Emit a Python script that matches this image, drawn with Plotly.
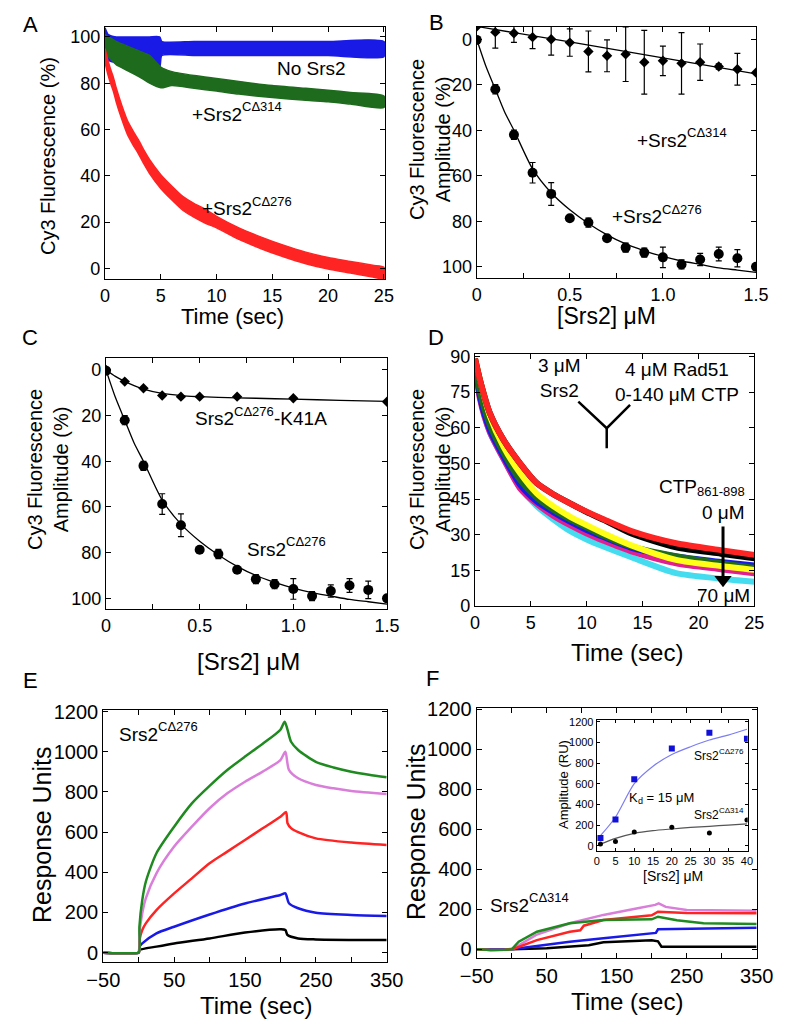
import plotly.graph_objects as go

# target picture is 800x1024; the page body adds an 8px margin, so the figure is
# drawn 8px smaller and every pixel position is shifted by that margin.
PAGE_W, PAGE_H = 800, 1024
OFF = 8
W, H = PAGE_W - OFF, PAGE_H - OFF
FONT = "Arial, 'Liberation Sans', Helvetica, sans-serif"

# ---------------- Panel A data ----------------
a_blue_t = [0, 0.3, 1, 2, 3, 4, 4.9, 5.1, 8, 12, 16, 20, 25]
a_blue_hi = [104, 101, 100, 100, 100, 100, 100, 98, 98, 98, 98, 98, 98]
a_blue_lo = [93, 90, 89, 89, 89, 89, 87, 92, 92, 92, 92, 92, 91.5]

a_green_t = [0, 0.5, 1, 2, 3, 4, 5, 6, 8, 10, 12, 15, 18, 20, 22, 25]
a_green_hi = [101, 99.5, 98, 96, 94, 92, 87, 85, 83.3, 82, 80.7, 79, 77.8, 77, 76, 74.5]
a_green_lo = [93, 90.5, 88, 85.5, 83, 80, 78, 79, 77.8, 76.6, 75.3, 73.8, 72.6, 72, 71, 69.5]

a_red_t = [0, 0.25, 0.5, 0.75, 1, 1.5, 2, 2.5, 3, 3.5, 4, 5, 6, 7, 8, 9, 10, 12, 14, 16, 18, 20, 22, 24, 25]
a_red_hi = [95, 90, 86, 82.5, 78, 70.5, 64, 59.5, 55.5, 51, 47, 40.5, 35.5, 31, 28, 25.5, 22.5, 17.5, 13.5, 10, 7, 4.7, 3, 1.3, 0.5]
a_red_lo = [89, 84, 80, 76.5, 72, 64.5, 58, 53.5, 49.5, 45, 41, 34.5, 29.5, 25, 22, 19.5, 17.5, 12.5, 8.5, 5, 2, -0.3, -2, -3.7, -4.5]

# ---------------- Panel B / C data ----------------
srs2_conc = [0, 0.1, 0.2, 0.3, 0.4, 0.5, 0.6, 0.7, 0.8, 0.9, 1.0, 1.1, 1.2, 1.3, 1.4, 1.5]
c276_amp = [0.3, 22, 42, 58.7, 68, 78.7, 80.6, 87.5, 91.6, 93.8, 95.9, 99, 96.8, 94.4, 96.3, 100]
c276_err = [0, 2, 2, 4.5, 5, 0, 2, 0, 2, 2, 4.5, 2, 2.7, 3, 3.8, 0]
c276_fit_x = [0, 0.05, 0.1, 0.15, 0.2, 0.3, 0.4, 0.5, 0.6, 0.7, 0.8, 0.9, 1.0, 1.1, 1.2, 1.3, 1.4, 1.5]
c276_fit_y = [0, 12, 22, 32, 40, 57, 67.5, 75, 81, 86, 90, 93, 95.5, 97.5, 99, 100.5, 101.5, 102.5]

c314_amp = [-5.6, -3.1, -2.6, -0.9, 0, 1.5, 5.4, 7.3, 6.6, 10.1, 9.5, 10.6, 10.1, 12, 13.2, 14.7]
c314_err = [0, 7, 4, 5, 7, 6, 9, 7, 12, 14, 6.5, 13.5, 8, 1.2, 7, 0]
c314_fit_x = [0, 0.5, 1.0, 1.5]
c314_fit_y = [-5.6, 1.2, 8.2, 15.2]

k41a_x = [0, 0.1, 0.2, 0.3, 0.4, 0.5, 0.7, 1.0, 1.5]
k41a_amp = [0, 5.1, 8, 11.2, 11.7, 11.7, 11.7, 12.4, 13.9]
k41a_fit_x = [0, 0.05, 0.1, 0.15, 0.2, 0.3, 0.4, 0.6, 0.8, 1.0, 1.25, 1.5]
k41a_fit_y = [0, 2.8, 5, 6.9, 8.4, 10.3, 11.2, 12, 12.4, 12.8, 13.3, 13.8]

# ---------------- Panel D data ----------------
d_t = [0, 0.45, 1.34, 2.54, 4.03, 5.52, 7, 8.5, 10, 11.5, 14, 18, 22, 25]
d_red = [104, 95, 81, 70, 60, 51.7, 47, 43.2, 39.7, 36.5, 31.5, 26.4, 23.5, 21.5]
d_black = [104, 95, 81, 70, 60, 51.7, 47, 43.2, 39.5, 36.3, 30.5, 24.7, 22, 20.1]
d_yellow = [104, 95, 79.7, 67.1, 55.9, 47.4, 42, 37.6, 34, 30.6, 25.5, 19.4, 16.8, 15.2]
d_green = [103, 90, 76, 64.5, 53, 45.5, 40.5, 36.5, 33, 29.5, 25, 21, 18, 16]
d_blue = [103, 88, 74, 63, 51, 44, 39.5, 35.5, 32, 29, 24.5, 20.8, 18.5, 17]
d_magenta = [103, 87, 73, 62, 49.5, 43, 38, 34, 30.5, 27.5, 23, 18, 15.5, 13.8]
d_cyan = [103, 88, 73, 62, 50, 42, 36.5, 31.6, 28, 25, 20.5, 13.8, 11.5, 10.2]
d_ytick_vals = [0, 15, 30, 45, 60, 75, 90, 105]
d_ytick_text = ["0", "15", "30", "45", "50", "60", "75", "90"]
d_ymark_x = [9.25, 11.79, 13.88]
d_ymark_y = [86, 74.8, 84.6]
d_ystem_y = [74.8, 66.4]
d_arrow_x = 22.2
d_arrow_y = [33.4, 12.5]
d_arrow_head_y = 11.0

# ---------------- Panel E data ----------------
e_green_t = [-50, -30, -10, 0, 1, 5, 10, 25, 50, 75, 100, 125, 150, 175, 200, 206, 210, 215, 225, 250, 275, 300, 325, 350]
e_green = [0, -3, -3, 0, 130, 262, 353, 495, 627, 743, 830, 909, 976, 1040, 1110, 1150, 1110, 1050, 1009, 950, 922, 901, 886, 873]
e_violet_t = [-50, -30, -10, 0, 1, 5, 10, 25, 50, 75, 100, 125, 150, 175, 200, 207, 212, 225, 250, 275, 300, 350]
e_violet = [0, -3, -3, 0, 96, 196, 270, 395, 528, 627, 719, 793, 851, 901, 959, 1000, 910, 868, 835, 818, 805, 790]
e_red_t = [-50, -30, -10, 0, 1, 5, 10, 25, 50, 75, 100, 125, 150, 175, 200, 208, 210, 215, 225, 250, 300, 350]
e_red = [0, -3, -3, 0, 63, 113, 146, 212, 295, 370, 445, 503, 561, 619, 677, 700, 644, 620, 600, 569, 548, 536]
e_blue_t = [-50, -30, -10, 0, 1, 5, 25, 50, 100, 150, 200, 207, 212, 225, 250, 300, 350]
e_blue = [0, -3, -3, 0, 30, 46, 96, 129, 190, 245, 287, 295, 246, 221, 199, 188, 183]
e_black_t = [-50, -30, -10, 0, 1, 25, 50, 100, 150, 200, 207, 210, 225, 250, 350]
e_black = [0, -3, -3, 0, 13, 30, 46, 71, 100, 116, 113, 88, 71, 66, 63]

# ---------------- Panel F data ----------------
f_violet_t = [-50, -30, -10, 0, 3, 35, 83, 131, 180, 205, 210, 220, 250, 350]
f_violet = [0, -3, -2, 0, 5, 72, 130, 172, 205, 222, 230, 212, 197, 193]
f_red_t = [-50, -30, -10, 0, 3, 36, 83, 98, 103, 131, 200, 209, 250, 350]
f_red = [0, -3, -2, 0, 3, 46, 88, 95, 118, 146, 170, 188, 182, 180]
f_green_t = [-50, -30, -10, 0, 10, 36, 83, 131, 200, 209, 236, 274, 350]
f_green = [0, -3, -2, 0, 38, 88, 130, 146, 150, 163, 145, 130, 126]
f_blue_t = [-50, -30, 0, 36, 83, 131, 200, 206, 209, 350]
f_blue = [0, 0, 0, 16, 38, 55, 78, 82, 100, 108]
f_black_t = [-50, 0, 50, 83, 110, 131, 200, 209, 214, 350]
f_black = [0, 0, 5, 15, 20, 35, 45, 40, 13, 13]

# ---------------- Inset data ----------------
ins_conc = [1, 5, 10, 20, 30, 40]
ins_276 = [75, 253, 643, 942, 1094, 1036]
ins_314 = [16, 42, 133, 179, 123, 250]
ins_fit_x = [1, 5, 10, 15, 20, 25, 30, 35, 40]
ins_276_fit = [97, 276, 600, 770, 883, 958, 1023, 1071, 1127]
ins_314_fit = [16, 71, 120, 146, 162, 177, 188, 200, 211]

# colours
BLUE = "#1a1ae6"
DGREEN = "#1e6b1e"
RED = "#ff2424"
GREEN = "#1f8a1f"
VIOLET = "#d97fd9"
MAGENTA = "#e0208f"
YELLOW = "#ffff1a"
CYAN = "#45dcf0"

fig = go.Figure()


def px_x(x):
    return (x - OFF) / W


def px_y(y):
    return 1 - (y - OFF) / H


def dom(l, r, t, b):
    return [px_x(l), px_x(r)], [px_y(b), px_y(t)]


def axis(dm, rng, size=18, minor_vals=None, tl=5, lw=1.3, **kw):
    d = dict(domain=dm, range=rng, showline=True, linecolor="black", linewidth=lw,
             mirror="ticks", ticks="inside", ticklen=tl, tickwidth=1.2, tickcolor="black",
             showgrid=False, zeroline=False, automargin=False,
             tickfont=dict(family=FONT, size=size, color="black"))
    if minor_vals is not None:
        d["minor"] = dict(tickvals=minor_vals, ticks="inside", ticklen=tl, tickwidth=1.2,
                          tickcolor="black", showgrid=False)
    d.update(kw)
    return d


def band(t, hi, lo, color, ax):
    fig.add_trace(go.Scatter(x=list(t) + list(t)[::-1], y=list(hi) + list(lo)[::-1],
                             fill="toself", fillcolor=color, mode="lines",
                             line=dict(color=color, width=1.5, shape="spline", smoothing=0.6),
                             hoverinfo="skip",
                             xaxis="x" + ax, yaxis="y" + ax, showlegend=False))


def line(t, v, color, ax, width=2.5, shape="linear"):
    fig.add_trace(go.Scatter(x=t, y=v, mode="lines",
                             line=dict(color=color, width=width, shape=shape, smoothing=0.7),
                             xaxis="x" + ax, yaxis="y" + ax, showlegend=False))


# ---- A (axis 1) ----
band(a_blue_t, a_blue_hi, a_blue_lo, BLUE, "")
band(a_green_t, a_green_hi, a_green_lo, DGREEN, "")
band(a_red_t, a_red_hi, a_red_lo, RED, "")

# ---- B (axis 2) ----
line(c314_fit_x, c314_fit_y, "black", "2", 1.3, "spline")
line(c276_fit_x, c276_fit_y, "black", "2", 1.3, "spline")
fig.add_trace(go.Scatter(x=srs2_conc, y=c314_amp, mode="markers",
                         marker=dict(symbol="diamond", size=8, color="black"),
                         error_y=dict(type="data", array=c314_err, color="black", thickness=1.2, width=3),
                         xaxis="x2", yaxis="y2", showlegend=False))
fig.add_trace(go.Scatter(x=srs2_conc, y=c276_amp, mode="markers",
                         marker=dict(symbol="circle", size=10, color="black"),
                         error_y=dict(type="data", array=c276_err, color="black", thickness=1.2, width=3),
                         xaxis="x2", yaxis="y2", showlegend=False))

# ---- C (axis 3) ----
line(k41a_fit_x, k41a_fit_y, "black", "3", 1.3, "spline")
line(c276_fit_x, c276_fit_y, "black", "3", 1.3, "spline")
fig.add_trace(go.Scatter(x=k41a_x, y=k41a_amp, mode="markers",
                         marker=dict(symbol="diamond", size=8, color="black"),
                         xaxis="x3", yaxis="y3", showlegend=False))
fig.add_trace(go.Scatter(x=srs2_conc, y=c276_amp, mode="markers",
                         marker=dict(symbol="circle", size=10, color="black"),
                         error_y=dict(type="data", array=c276_err, color="black", thickness=1.2, width=3),
                         xaxis="x3", yaxis="y3", showlegend=False))

# ---- D (axis 4) ----
for vals, col in [(d_cyan, CYAN), (d_magenta, MAGENTA), (d_blue, BLUE), (d_green, DGREEN),
                  (d_yellow, YELLOW), (d_black, "black"), (d_red, RED)]:
    line(d_t, vals, col, "4", 6, "spline")
# Y-shaped mark
line(d_ymark_x, d_ymark_y, "black", "4", 2.5)
line([d_ymark_x[1], d_ymark_x[1]], d_ystem_y, "black", "4", 2.5)
# arrow (shaft + head)
line([d_arrow_x, d_arrow_x], d_arrow_y, "black", "4", 3)
fig.add_trace(go.Scatter(x=[d_arrow_x], y=[d_arrow_head_y], mode="markers",
                         marker=dict(symbol="triangle-down", size=15, color="black"),
                         xaxis="x4", yaxis="y4", showlegend=False))

# ---- E (axis 5) ----
for t, v, col in [(e_black_t, e_black, "black"), (e_blue_t, e_blue, BLUE), (e_red_t, e_red, RED),
                  (e_violet_t, e_violet, VIOLET), (e_green_t, e_green, GREEN)]:
    line(t, v, col, "5", 2.5, "spline")

# ---- F (axis 6) ----
for t, v, col in [(f_black_t, f_black, "black"), (f_blue_t, f_blue, BLUE), (f_violet_t, f_violet, VIOLET),
                  (f_red_t, f_red, RED), (f_green_t, f_green, GREEN)]:
    line(t, v, col, "6", 2.5)

# ---- Inset (axis 7) ----
line(ins_fit_x, ins_276_fit, "#7d7df2", "7", 1.2, "spline")
line(ins_fit_x, ins_314_fit, "#555555", "7", 1.2, "spline")
fig.add_trace(go.Scatter(x=ins_conc, y=ins_276, mode="markers",
                         marker=dict(symbol="square", size=6, color="#1010d8"),
                         xaxis="x7", yaxis="y7", showlegend=False))
fig.add_trace(go.Scatter(x=ins_conc, y=ins_314, mode="markers",
                         marker=dict(symbol="circle", size=5, color="black"),
                         xaxis="x7", yaxis="y7", showlegend=False))

# ---- axes ----
xA, yA = dom(105, 385, 26.5, 279)
xB, yB = dom(476.7, 756, 26.7, 278.3)
xC, yC = dom(106, 387, 358.3, 609.3)
xD, yD = dom(475, 754.3, 354, 606)
xE, yE = dom(103.3, 386.7, 710, 962.3)
xF, yF = dom(476.7, 756.7, 707.7, 957.7)
xI, yI = dom(596.7, 747.7, 720, 851)

sec_vals = [-50, 50, 150, 250, 350]
sec_minor = [0, 100, 200, 300]
conc_vals = [0, 0.5, 1.0, 1.5]
conc_text = ["0", "0.5", "1.0", "1.5"]
conc_minor = [0.25, 0.75, 1.25]
ru_vals = [0, 200, 400, 600, 800, 1000, 1200]

fig.update_layout(
    template="none",
    width=W, height=H, margin=dict(l=0, r=0, t=0, b=0, autoexpand=False),
    paper_bgcolor="white", plot_bgcolor="white", showlegend=False,
    font=dict(family=FONT, color="black", size=18),
    xaxis=axis(xA, [0, 25.1], anchor="y", tickvals=[0, 5, 10, 15, 20, 25]),
    yaxis=axis(yA, [-4.6, 104.5], anchor="x", tickvals=[0, 20, 40, 60, 80, 100]),
    xaxis2=axis(xB, [0, 1.5], anchor="y2", tickvals=conc_vals, ticktext=conc_text, minor_vals=conc_minor),
    yaxis2=axis(yB, [105.1, -5.5], anchor="x2", tickvals=[0, 20, 40, 60, 80, 100]),
    xaxis3=axis(xC, [0, 1.5], anchor="y3", tickvals=conc_vals, ticktext=conc_text, minor_vals=conc_minor),
    yaxis3=axis(yC, [104.8, -5.1], anchor="x3", tickvals=[0, 20, 40, 60, 80, 100]),
    xaxis4=axis(xD, [0, 25], anchor="y4", tickvals=[0, 5, 10, 15, 20, 25]),
    yaxis4=axis(yD, [0, 106], anchor="x4", tickvals=d_ytick_vals, ticktext=d_ytick_text),
    xaxis5=axis(xE, [-50, 350], size=20, anchor="y5", tickvals=sec_vals, minor_vals=sec_minor),
    yaxis5=axis(yE, [-48, 1208], size=20, anchor="x5", tickvals=ru_vals),
    xaxis6=axis(xF, [-50, 350], size=20, anchor="y6", tickvals=sec_vals, minor_vals=sec_minor),
    yaxis6=axis(yF, [-42, 1208], size=20, anchor="x6", tickvals=ru_vals),
    xaxis7=axis(xI, [0, 40.2], size=11, anchor="y7", tickvals=list(range(0, 41, 5)), tl=3, lw=1),
    yaxis7=axis(yI, [-51, 1217], size=11, anchor="x7", tickvals=ru_vals, tl=3, lw=1),
)

ann = []


def txt(text, x, y, size=19, xanchor="center", yanchor="middle", angle=0):
    ann.append(dict(text=text, x=px_x(x), y=px_y(y), xref="paper", yref="paper",
                    xanchor=xanchor, yanchor=yanchor, showarrow=False, textangle=angle,
                    font=dict(family=FONT, size=size, color="black")))


# Arial advance widths (per em) for composing super/subscript labels
CW = {"+": .584, "S": .667, "r": .333, "s": .5, "C": .722, "Δ": .668, "-": .333,
      "K": .667, "A": .667, "T": .611, "P": .667, " ": .278, "μ": .576, "M": .833,
      "d": .556, "=": .584}


def tw(s, size):
    return sum(CW.get(c, .556) for c in s) * size


def rich(parts, x, y, size):
    """parts: list of (text, kind) where kind is '', 'sup' or 'sub'."""
    cx = x
    for s, kind in parts:
        if kind == "":
            fs, dy = size, 0
        elif kind == "sup":
            fs, dy = round(size * 0.7), -0.38 * size
        else:
            fs, dy = round(size * 0.7), 0.3 * size
        txt(s, cx, y + dy, size=fs, xanchor="left")
        cx += tw(s, fs)


# panel letters
for L, x, y in [("A", 30, 25), ("B", 436, 23), ("C", 30, 337), ("D", 436, 337), ("E", 30, 680), ("F", 432, 678)]:
    txt(L, x, y, size=22)

# axis titles
txt("Time (sec)", 232, 316, size=22)
txt("Cy3 Fluorescence (%)", 48, 156, size=20, angle=-90)
txt("[Srs2] μM", 606, 316, size=23)
txt("Cy3 Fluorescence<br>Amplitude (%)", 430, 140, size=20, angle=-90)
txt("[Srs2] μM", 248, 661, size=24)
txt("Cy3 Fluorescence<br>Amplitude (%)", 48, 470, size=20, angle=-90)
txt("Time (sec)", 627, 652, size=24)
txt("Cy3 Fluorescence<br>Amplitude (%)", 430, 470, size=20, angle=-90)
txt("Time (sec)", 256, 1005, size=24)
txt("Response Units", 42, 835, size=25, angle=-90)
txt("Time (sec)", 627, 1001, size=24)
txt("Response Units", 416, 832, size=25, angle=-90)
txt("[Srs2] μM", 673, 876, size=14)
txt("Amplitude (RU)", 563, 785, size=13, angle=-90)

# panel annotations
txt("No Srs2", 275, 68, xanchor="left")
rich([("+Srs2", ""), ("CΔ314", "sup")], 190, 114, 19)
rich([("+Srs2", ""), ("CΔ276", "sup")], 200, 209, 19)
rich([("+Srs2", ""), ("CΔ314", "sup")], 635, 140, 19)
rich([("+Srs2", ""), ("CΔ276", "sup")], 610, 217, 19)
rich([("Srs2", ""), ("CΔ276", "sup"), ("-K41A", "")], 193, 419, 19)
rich([("Srs2", ""), ("CΔ276", "sup")], 245, 549, 19)
txt("3 μM<br>Srs2", 559, 378, size=19)
txt("4 μM Rad51<br>0-140 μM CTP", 677, 382, size=19)
rich([("CTP", ""), ("861-898", "sub")], 657, 486, 19)
txt("0 μM", 723, 512, size=19)
txt("70 μM", 752, 595, size=19, xanchor="right")
rich([("Srs2", ""), ("CΔ276", "sup")], 117, 734, 19)
rich([("Srs2", ""), ("CΔ314", "sup")], 488, 905, 19)
rich([("Srs2", ""), ("CΔ276", "sup")], 692, 756, 12)
rich([("K", ""), ("d", "sub"), (" = 15 μM", "")], 627, 797, 13)
rich([("Srs2", ""), ("CΔ314", "sup")], 692, 815, 12)

fig.update_layout(annotations=ann)
fig.write_html("out.html")
